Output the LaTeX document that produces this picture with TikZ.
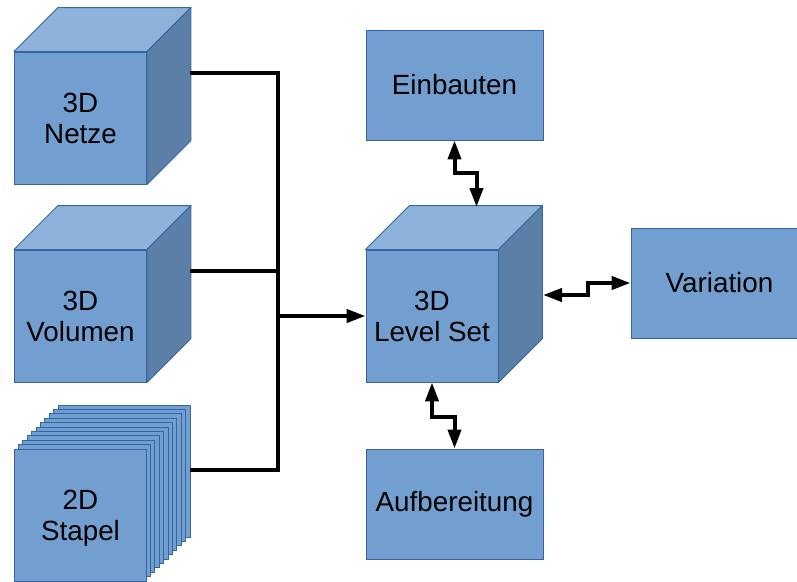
\documentclass[tikz,border=0pt]{standalone}
\usepackage{fontspec}
\setmainfont{Liberation Sans}
\usetikzlibrary{arrows.meta,calc}

\definecolor{facefront}{RGB}{114,159,207}
\definecolor{facetop}{RGB}{142,178,217}
\definecolor{faceside}{RGB}{91,127,166}
\definecolor{faceedge}{RGB}{52,101,164}

\tikzset{
  box/.style={draw=faceedge, line width=0.9pt, fill=facefront, inner sep=0pt,
    align=center, font=\fontsize{27.8}{31}\selectfont},
  cubefront/.style={box, minimum width=132pt, minimum height=132pt},
  flatbox/.style={box, minimum width=177pt, minimum height=110pt},
  sideface/.style={draw=faceedge, line width=0.9pt, line join=round},
  link/.style={line width=4pt, line join=miter},
  tip/.style={-{Triangle[length=19pt,width=13pt]}},
  twotip/.style={{Triangle[length=19pt,width=13pt]}-{Triangle[length=19pt,width=13pt]}},
}

% depth offset of the cubes
\newcommand{\cubedepth}{44}

% \drawcube{name}{x}{y}{label}: cube whose front face is centred at (x,y)
\newcommand{\drawcube}[4]{%
  \node[cubefront] (#1) at (#2,#3) {#4};
  \draw[sideface, fill=facetop] (#1.north west) -- ++(\cubedepth,-\cubedepth)
    -- ($(#1.north east)+(\cubedepth,-\cubedepth)$) -- (#1.north east) -- cycle;
  \draw[sideface, fill=faceside] (#1.north east) -- ++(\cubedepth,-\cubedepth)
    -- ($(#1.south east)+(\cubedepth,-\cubedepth)$) -- (#1.south east) -- cycle;
}

\begin{document}
\begin{tikzpicture}[x=1pt,y=-1pt]
\useasboundingbox (0,0) rectangle (797,581);

% input volumes
\drawcube{netze}{80.5}{118}{3D\\Netze}
\drawcube{volumen}{80.5}{316}{3D\\Volumen}

% stack of slices, back to front
\foreach \i in {10,9,...,1}{
  \draw[draw=faceedge, line width=0.9pt, fill=facefront]
    ({14+4.4*\i},{449-4.4*\i}) rectangle ++(132,132);
}
\node[cubefront] (stapel) at (80.5,515) {2D\\Sta\smash{p}el};

% central level set cube and its neighbours
\drawcube{levelset}{432}{316}{3D\\Level Set}
\node[flatbox] (einbauten) at (454.5,85) {Einbauten};
\node[flatbox] (aufbereitung) at (454.5,504) {Aufbereitung};
\node[flatbox] (variation) at (719.5,283) {Variation};

% connection points
\coordinate (netzeout) at (190,73);
\coordinate (volumenout) at (190,271);
\coordinate (stapelout) at (190,470);
\coordinate (bus) at (278,316);
\coordinate (lstop) at (476.5,207);
\coordinate (lsright) at (543,295);

% collecting bus from the inputs
\draw[link] (netzeout) -| (278,470) -- (stapelout);
\draw[link] (volumenout) -- (278,271);
\draw[link, tip] (bus) -- (levelset.west);

% two-way links of the level set
\draw[link, twotip] (einbauten.south) -- ++(0,33) -| (lstop);
\draw[link, twotip] (lsright) -- (588,295) |- (variation.west);
\draw[link, twotip] (levelset.south) -- ++(0,35) -| (aufbereitung.north);
\end{tikzpicture}
\end{document}
